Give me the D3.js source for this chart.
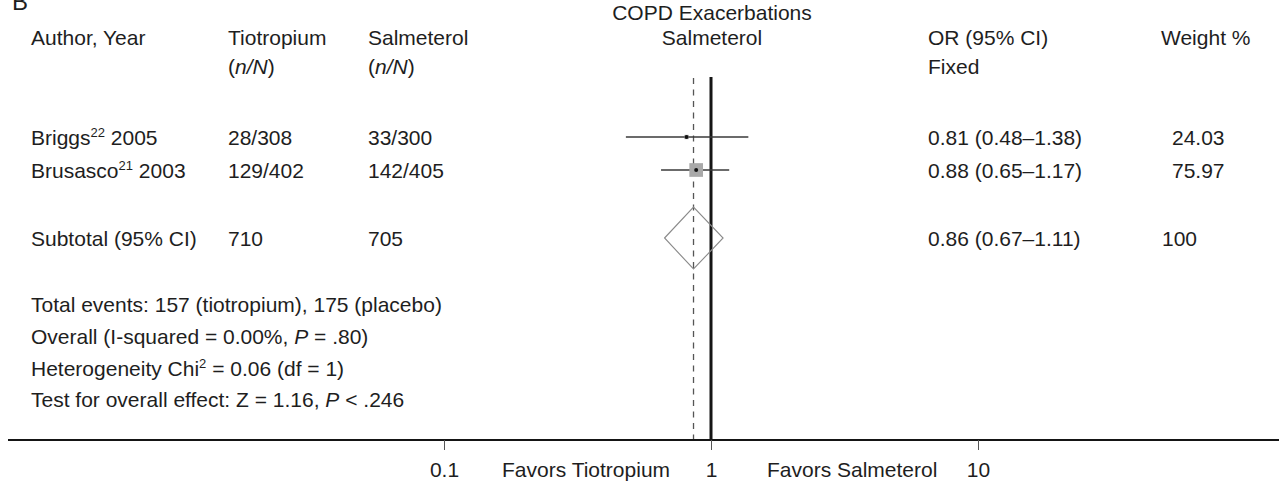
<!DOCTYPE html>
<html>
<head>
<meta charset="utf-8">
<script src="https://cdn.jsdelivr.net/npm/d3@7"></script>
<style>
  html, body { margin: 0; padding: 0; background: #fff; }
  svg { display: block; font-family: "Liberation Sans", Arial, Helvetica, sans-serif; }
  text { fill: #1e1e1e; font-size: 21px; }
</style>
</head>
<body>
<svg id="chart" width="1279" height="484"></svg>
<script>
// Study rows
const authors = ["Briggs", "Brusasco"];
const refNums = ["22", "21"];
const years = ["2005", "2003"];
const tioEvents = [28, 129];
const tioTotals = [308, 402];
const salEvents = [33, 142];
const salTotals = [300, 405];
const oddsRatio = [0.81, 0.88];
const ciLow = [0.48, 0.65];
const ciHigh = [1.38, 1.17];
const weights = [24.03, 75.97];

// Pooled (fixed effect) result
const pooledOR = [0.86];
const pooledLow = [0.67];
const pooledHigh = [1.11];
const pooledTio = [710];
const pooledSal = [705];
const pooledWeight = [100];

// Axis
const axisTicks = [0.1, 1, 10];

const svg = d3.select("#chart");
const W = 1279;

const x = d3.scaleLog().domain([0.1, 10]).range([444, 978]);
const rowY = d3.scalePoint().domain([0, 1]).range([137, 170]);
const subtotalY = 238;
const axisY = 440;
const plotTop = 77;
const boxSize = d3.scaleLinear().domain([0, 100]).range([0, 18]);

const fmt2 = d3.format(".2f");

// Panel letter
svg.append("text").attr("x", 12).attr("y", 10).style("font-size", "24px").text("B");

// Column headers
svg.append("text").attr("x", x(1) + 1).attr("y", 20).attr("text-anchor", "middle").text("COPD Exacerbations");
svg.append("text").attr("x", x(1) + 1).attr("y", 45).attr("text-anchor", "middle").text("Salmeterol");
svg.append("text").attr("x", 31).attr("y", 45).text("Author, Year");
svg.append("text").attr("x", 228).attr("y", 45).text("Tiotropium");
svg.append("text").attr("x", 368).attr("y", 45).text("Salmeterol");
svg.append("text").attr("x", 928).attr("y", 45).text("OR (95% CI)");
svg.append("text").attr("x", 1161).attr("y", 45).text("Weight %");
[228, 368].forEach(cx => {
  const t = svg.append("text").attr("x", cx).attr("y", 74);
  t.append("tspan").text("(");
  t.append("tspan").style("font-style", "italic").text("n/N");
  t.append("tspan").text(")");
});
svg.append("text").attr("x", 928).attr("y", 74).text("Fixed");

// Reference lines: pooled estimate (dashed) and line of no effect (solid)
svg.append("line")
  .attr("x1", x(pooledOR[0])).attr("x2", x(pooledOR[0]))
  .attr("y1", plotTop + 1).attr("y2", axisY)
  .attr("stroke", "#555").attr("stroke-width", 1.3).attr("stroke-dasharray", "6,5.5");
svg.append("line")
  .attr("x1", x(1)).attr("x2", x(1))
  .attr("y1", plotTop).attr("y2", axisY)
  .attr("stroke", "#151515").attr("stroke-width", 3);

// Study rows
const rows = svg.append("g").selectAll("g").data(authors).join("g");
rows.each(function (name, i) {
  const g = d3.select(this);
  const y = rowY(i);
  const base = y + 8;
  const t = g.append("text").attr("x", 31).attr("y", base);
  t.append("tspan").text(name);
  t.append("tspan").attr("dy", -8).style("font-size", "13px").text(refNums[i]);
  t.append("tspan").attr("dy", 8).text(" " + years[i]);
  g.append("text").attr("x", 228).attr("y", base).text(tioEvents[i] + "/" + tioTotals[i]);
  g.append("text").attr("x", 368).attr("y", base).text(salEvents[i] + "/" + salTotals[i]);
  g.append("text").attr("x", 928).attr("y", base)
    .text(fmt2(oddsRatio[i]) + " (" + fmt2(ciLow[i]) + "\u2013" + fmt2(ciHigh[i]) + ")");
  g.append("text").attr("x", 1172).attr("y", base).text(fmt2(weights[i]));

  // Confidence interval
  g.append("line")
    .attr("x1", x(ciLow[i])).attr("x2", x(ciHigh[i]))
    .attr("y1", y).attr("y2", y)
    .attr("stroke", "#3a3a3a").attr("stroke-width", 1.4);
  // Weight box
  const s = boxSize(weights[i]);
  g.append("rect")
    .attr("x", x(oddsRatio[i]) - s / 2).attr("y", y - s / 2)
    .attr("width", s).attr("height", s)
    .attr("fill", "#a9a9a9");
  // Point estimate
  g.append("circle")
    .attr("cx", x(oddsRatio[i])).attr("cy", y).attr("r", 2)
    .attr("fill", "#111");
});

// Subtotal row
const sb = subtotalY + 8;
svg.append("text").attr("x", 31).attr("y", sb).text("Subtotal (95% CI)");
svg.append("text").attr("x", 228).attr("y", sb).text(pooledTio[0]);
svg.append("text").attr("x", 368).attr("y", sb).text(pooledSal[0]);
svg.append("text").attr("x", 928).attr("y", sb)
  .text(fmt2(pooledOR[0]) + " (" + fmt2(pooledLow[0]) + "\u2013" + fmt2(pooledHigh[0]) + ")");
svg.append("text").attr("x", 1162).attr("y", sb).text(pooledWeight[0]);

const dh = 31;
svg.append("path")
  .attr("d", d3.line()([
    [x(pooledLow[0]), subtotalY],
    [x(pooledOR[0]), subtotalY - dh],
    [x(pooledHigh[0]), subtotalY],
    [x(pooledOR[0]), subtotalY + dh]
  ]) + "Z")
  .attr("fill", "none").attr("stroke", "#8a8a8a").attr("stroke-width", 1.1);

// Summary statistics
const notes = svg.append("g");
notes.append("text").attr("x", 31).attr("y", 312)
  .text("Total events: 157 (tiotropium), 175 (placebo)");
let t2 = notes.append("text").attr("x", 31).attr("y", 344);
t2.append("tspan").text("Overall (I-squared = 0.00%, ");
t2.append("tspan").style("font-style", "italic").text("P");
t2.append("tspan").text(" = .80)");
let t3 = notes.append("text").attr("x", 31).attr("y", 376);
t3.append("tspan").text("Heterogeneity Chi");
t3.append("tspan").attr("dy", -8).style("font-size", "13px").text("2");
t3.append("tspan").attr("dy", 8).text(" = 0.06 (df = 1)");
let t4 = notes.append("text").attr("x", 31).attr("y", 407);
t4.append("tspan").text("Test for overall effect: Z = 1.16, ");
t4.append("tspan").style("font-style", "italic").text("P");
t4.append("tspan").text(" < .246");

// Horizontal axis
svg.append("line")
  .attr("x1", 8).attr("x2", W).attr("y1", axisY).attr("y2", axisY)
  .attr("stroke", "#151515").attr("stroke-width", 2);
const axis = svg.append("g").attr("transform", `translate(0,${axisY})`)
  .call(d3.axisBottom(x).tickValues(axisTicks).tickSize(10).tickPadding(12)
    .tickFormat(d => String(d)));
axis.select(".domain").remove();
axis.selectAll(".tick line").attr("stroke", "#555").attr("stroke-width", 1);
axis.selectAll(".tick text").style("font-size", "21px").attr("fill", "#1e1e1e")
  .style("font-family", "'Liberation Sans', Arial, sans-serif");

svg.append("text").attr("x", 502).attr("y", 477).text("Favors Tiotropium");
svg.append("text").attr("x", 767).attr("y", 477).text("Favors Salmeterol");
</script>
</body>
</html>
